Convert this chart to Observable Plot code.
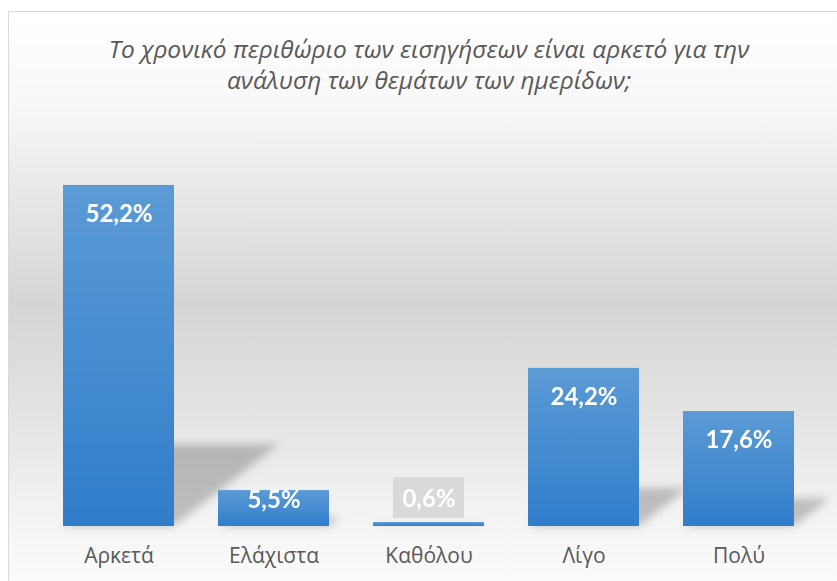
<!DOCTYPE html>
<html>
<head>
<meta charset="utf-8">
<script src="https://cdn.jsdelivr.net/npm/d3@7"></script>
<script src="https://cdn.jsdelivr.net/npm/@observablehq/plot@0.6"></script>
<style>
  html, body { margin: 0; padding: 0; background: #ffffff; }
  #wrap { position: relative; width: 837px; height: 581px; overflow: hidden; background: #ffffff; }
  #box {
    position: absolute; left: 8px; top: 11px; width: 900px; height: 600px;
    border: 1px solid #d9d9d9; box-sizing: border-box;
    background: linear-gradient(to bottom, #ffffff 0%, #f8f8f8 15%, #e8e8e8 30%, #d5d5d5 49%, #e4e4e4 68%, #f3f3f3 84%, #ffffff 100%);
  }
  #title {
    position: absolute; left: 29px; width: 800px; top: 33px;
    text-align: center; font-family: "Open Sans", sans-serif; font-style: italic;
    font-size: 24.5px; line-height: 31px; color: #595959;
  }
  #chart { position: absolute; left: 0; top: 0; }
</style>
</head>
<body>
<div id="wrap">
  <div id="box"></div>
  <div id="title">Το χρονικό περιθώριο των εισηγήσεων είναι αρκετό για την<br>ανάλυση των θεμάτων των ημερίδων;</div>
  <div id="chart"></div>
</div>
<script>
const categories = ["Αρκετά", "Ελάχιστα", "Καθόλου", "Λίγο", "Πολύ"];
const values = [52.2, 5.5, 0.6, 24.2, 17.6];
const labels = ["52,2%", "5,5%", "0,6%", "24,2%", "17,6%"];

const data = categories.map((c, i) => ({cat: c, v: values[i], label: labels[i]}));
const big = data.filter(d => d.v >= 10);
const mid = data.filter(d => d.v >= 2 && d.v < 10);
const tiny = data.filter(d => d.v < 2);

const chart = Plot.plot({
  width: 837,
  height: 581,
  marginLeft: 39,
  marginRight: 20,
  marginTop: 134,
  marginBottom: 55,
  style: {background: "transparent", fontFamily: "'Open Sans', sans-serif", fontSize: "21px", color: "#595959", overflow: "visible"},
  x: {domain: categories, paddingInner: 0.287, paddingOuter: 0.1435, tickSize: 0, tickPadding: 22, label: null},
  y: {domain: [0, 60], axis: null},
  marks: [
    // perspective shadows
    Plot.barY(data, {x: "cat", y: d => d.v * 0.24, fill: "#000000", fillOpacity: 0.22}),
    // bars
    Plot.barY(data, {x: "cat", y: "v", fill: "url(#barGrad)"}),
    // background box for tiny labels
    Plot.barY(tiny, {x: "cat", y1: "v", y2: "v", fill: "#d9d9d9", insetTop: -45, insetBottom: 4, insetLeft: 20, insetRight: 20}),
    Plot.text(big, {x: "cat", y: "v", text: "label", dy: 29, fill: "white", fontWeight: "bold", fontSize: 24, fontFamily: "Lato, 'Open Sans', sans-serif"}),
    Plot.text(mid, {x: "cat", y: "v", text: "label", dy: 10, fill: "white", fontWeight: "bold", fontSize: 24, fontFamily: "Lato, 'Open Sans', sans-serif"}),
    Plot.text(tiny, {x: "cat", y: "v", text: "label", dy: -23, fill: "white", fontWeight: "bold", fontSize: 24, fontFamily: "Lato, 'Open Sans', sans-serif"})
  ]
});

const svg = d3.select(chart);
const defs = svg.insert("defs", ":first-child");
const g = defs.append("linearGradient").attr("id", "barGrad").attr("x1", 0).attr("y1", 0).attr("x2", 0).attr("y2", 1);
g.append("stop").attr("offset", "0%").attr("stop-color", "#5b9bd5");
g.append("stop").attr("offset", "100%").attr("stop-color", "#317dcb");

const barGroups = svg.selectAll("g[aria-label='bar']").nodes();
if (barGroups.length) {
  const sg = d3.select(barGroups[0]);
  sg.style("filter", "blur(4px)");
  sg.selectAll("rect")
    .style("transform-box", "fill-box")
    .style("transform-origin", "0 100%")
    .style("transform", "skewX(-52deg)");
}

document.getElementById("chart").appendChild(chart);
</script>
</body>
</html>
